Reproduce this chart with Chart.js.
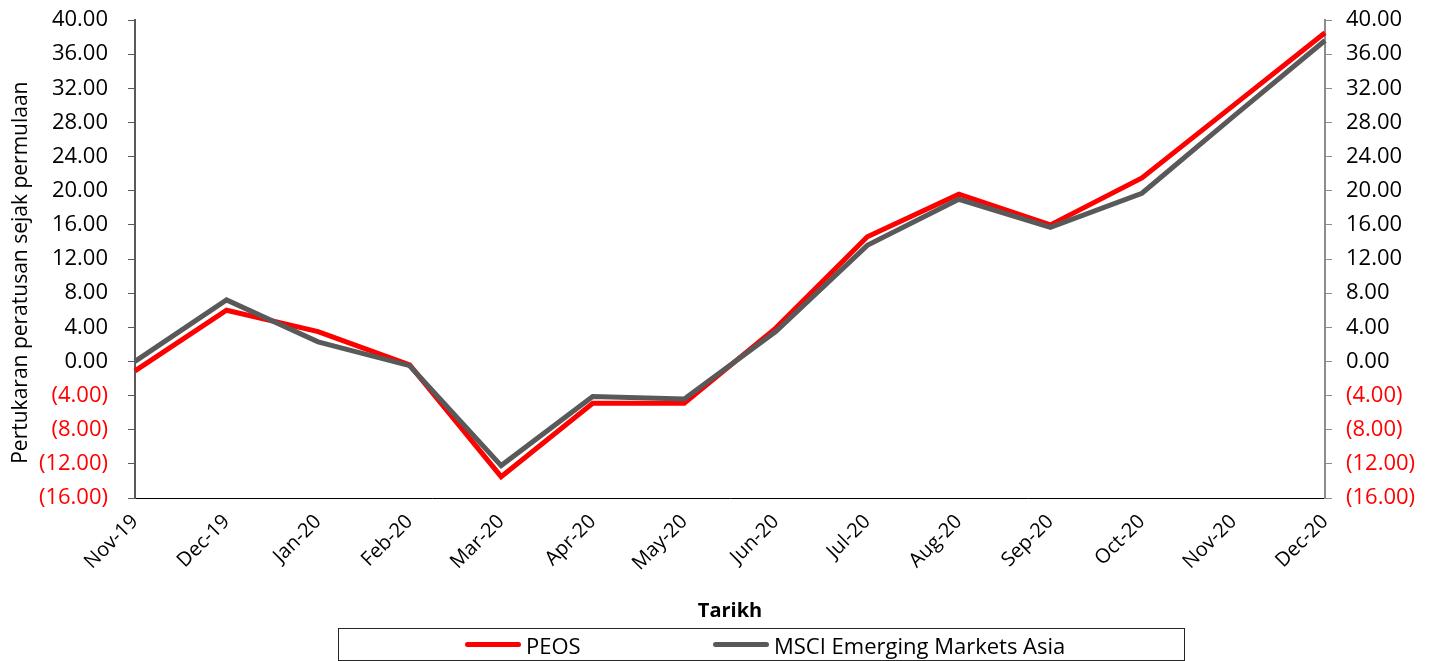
<!DOCTYPE html>
<html lang="ms">
<head>
  <meta charset="UTF-8">
  <title>PEOS vs MSCI Emerging Markets Asia</title>
  <style>
    body {
      margin: 0;
      background: #fff;
      font-family: "Open Sans", sans-serif;
    }

    .wrap {
      position: relative;
      width: 1433px;
      height: 661px;
    }

    .legend {
      position: absolute;
      left: 338px;
      top: 628px;
      width: 845px;
      height: 31px;
      border: 1px solid #262626;
      font-size: 22px;
      color: #000;
    }

    .legend span.item {
      display: flex;
      align-items: center;
      position: absolute;
      top: 0;
      height: 31px;
      white-space: nowrap;
    }

    .legend i {
      display: inline-block;
      width: 56px;
      height: 5px;
      border-radius: 3px;
      margin-right: 5px;
    }
  </style>
</head>
<body>
  <div class="wrap">
    <canvas id="chart" width="1433" height="661"></canvas>
    <div class="legend" id="legend"></div>
  </div>

  <script src="https://cdn.jsdelivr.net/npm/chart.js"></script>
  <script>
    // data
    const months = ['Nov-19', 'Dec-19', 'Jan-20', 'Feb-20', 'Mar-20', 'Apr-20', 'May-20',
                    'Jun-20', 'Jul-20', 'Aug-20', 'Sep-20', 'Oct-20', 'Nov-20', 'Dec-20'];
    const peos = [-1.1, 6.0, 3.5, -0.4, -13.5, -4.9, -4.9, 3.9, 14.6, 19.6, 16.0, 21.5, 30.0, 38.5];
    const msci = [0.0, 7.2, 2.3, -0.5, -12.2, -4.1, -4.4, 3.5, 13.6, 19.0, 15.7, 19.7, 28.7, 37.6];
    const yTicks = [-16, -12, -8, -4, 0, 4, 8, 12, 16, 20, 24, 28, 32, 36, 40];

    const seriesNames = ['PEOS', 'MSCI Emerging Markets Asia'];
    const seriesColors = ['#ff0000', '#595959'];

    const fam = '"Open Sans", sans-serif';
    const font = { family: fam, size: 22 };

    function fmt(v) {
      return v < 0 ? '(' + Math.abs(v).toFixed(2) + ')' : v.toFixed(2);
    }

    function tickColor(ctx) {
      return ctx.tick && ctx.tick.value < 0 ? '#ff0000' : '#000000';
    }

    function setTicks(scale) {
      scale.ticks = yTicks.map(v => ({ value: v }));
    }

    // fixed axis widths, and no extra room for the end labels
    function fitY(width) {
      return s => {
        s.width = width;
        s.paddingTop = 0;
        s.paddingBottom = 0;
      };
    }

    const ctx = document.getElementById('chart').getContext('2d');
    new Chart(ctx, {
      type: 'line',
      data: {
        labels: months,
        datasets: [
          {
            label: seriesNames[0],
            data: peos,
            borderColor: seriesColors[0],
            backgroundColor: seriesColors[0],
            borderWidth: 5,
            pointRadius: 0,
            tension: 0,
            order: 1,
            yAxisID: 'y'
          },
          {
            label: seriesNames[1],
            data: msci,
            borderColor: seriesColors[1],
            backgroundColor: seriesColors[1],
            borderWidth: 5,
            pointRadius: 0,
            tension: 0,
            order: 0,
            yAxisID: 'y'
          }
        ]
      },
      options: {
        responsive: false,
        animation: false,
        devicePixelRatio: 1,
        layout: { padding: { left: 8, top: 20, right: 0, bottom: 38 } },
        plugins: {
          legend: { display: false },
          tooltip: { enabled: false }
        },
        scales: {
          x: {
            grid: { display: false },
            border: { display: true, color: '#000000', width: 1 },
            ticks: {
              color: '#000000',
              font: { family: fam, size: 20 },
              minRotation: 45,
              maxRotation: 45,
              padding: 4,
              autoSkip: false
            },
            title: {
              display: true,
              text: 'Tarikh',
              color: '#000000',
              font: { family: fam, size: 20, weight: 'bold' },
              padding: { top: 0, bottom: 0 }
            },
            afterFit: s => { s.height = 125; }
          },
          y: {
            position: 'left',
            min: -16,
            max: 40,
            afterBuildTicks: setTicks,
            grid: { drawOnChartArea: false, color: '#595959', tickLength: 7 },
            border: { color: '#595959', width: 2 },
            ticks: {
              color: tickColor,
              font: font,
              padding: 20,
              callback: fmt
            },
            title: {
              display: true,
              text: 'Pertukaran peratusan sejak permulaan     ',
              color: '#000000',
              font: { family: fam, size: 21 },
              padding: { top: 0, bottom: 0 }
            },
            afterFit: fitY(127)
          },
          y2: {
            position: 'right',
            min: -16,
            max: 40,
            afterBuildTicks: setTicks,
            grid: { drawOnChartArea: false, color: '#8c8c8c', tickLength: 7 },
            border: { color: '#8c8c8c', width: 2 },
            ticks: {
              color: tickColor,
              font: font,
              padding: 14,
              callback: fmt
            },
            afterFit: fitY(108)
          }
        }
      }
    });

    // html legend with a frame like the original
    const legendLeft = [126, 374];
    const legend = document.getElementById('legend');
    seriesNames.forEach((name, i) => {
      const item = document.createElement('span');
      item.className = 'item';
      item.style.left = legendLeft[i] + 'px';
      const swatch = document.createElement('i');
      swatch.style.background = seriesColors[i];
      item.appendChild(swatch);
      item.appendChild(document.createTextNode(name));
      legend.appendChild(item);
    });
  </script>
</body>
</html>
